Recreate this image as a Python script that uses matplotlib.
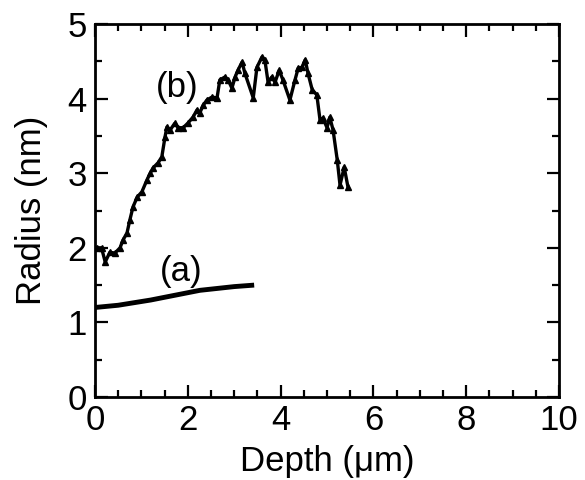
import matplotlib
matplotlib.use("Agg")
import matplotlib.pyplot as plt
from matplotlib.ticker import MultipleLocator

plt.rcParams['font.family'] = ['Liberation Sans', 'DejaVu Sans']

# curve (a)
depth_a = [0.0, 0.5, 1.2, 2.26, 3.0, 3.43]
radius_a = [1.20, 1.23, 1.30, 1.43, 1.48, 1.50]

# curve (b)
depth_b = [0.04, 0.14, 0.22, 0.32, 0.43, 0.54, 0.60, 0.69, 0.75, 0.82, 0.91, 1.01,
           1.12, 1.19, 1.25, 1.36, 1.44, 1.51, 1.55, 1.62, 1.72, 1.79, 1.90, 2.00,
           2.11, 2.20, 2.26, 2.33, 2.41, 2.52, 2.63, 2.69, 2.80, 2.87, 2.95, 3.02,
           3.08, 3.17, 3.23, 3.41, 3.49, 3.60, 3.66, 3.73, 3.81, 3.88, 3.97, 4.05,
           4.20, 4.31, 4.38, 4.46, 4.53, 4.59, 4.68, 4.78, 4.85, 4.91, 5.00, 5.06,
           5.13, 5.22, 5.28, 5.37, 5.45]
radius_b = [2.00, 2.00, 1.81, 1.94, 1.93, 2.00, 2.10, 2.20, 2.37, 2.55, 2.68, 2.75,
            2.91, 3.00, 3.07, 3.14, 3.22, 3.49, 3.62, 3.58, 3.67, 3.61, 3.61, 3.67,
            3.75, 3.85, 3.81, 3.91, 3.98, 4.02, 4.01, 4.25, 4.29, 4.25, 4.14, 4.29,
            4.38, 4.49, 4.34, 4.01, 4.42, 4.56, 4.52, 4.22, 4.29, 4.22, 4.38, 4.25,
            3.98, 4.25, 4.41, 4.42, 4.52, 4.34, 4.12, 4.05, 3.71, 3.74, 3.61, 3.75,
            3.58, 3.18, 2.84, 3.08, 2.82]

fig = plt.figure(figsize=(5.85, 4.8), dpi=100)
ax = fig.add_axes([0.1624, 0.1729, 0.7932, 0.7771])

ax.plot(depth_a, radius_a, color='black', lw=3.5, solid_capstyle='butt')
ax.plot(depth_b, radius_b, color='black', lw=2.4, marker='^', markersize=4.5)

ax.text(1.77, 4.15, '(b)', fontsize=25, ha='center', va='center')
ax.text(1.85, 1.68, '(a)', fontsize=25, ha='center', va='center')

ax.set_xlim(0, 10)
ax.set_ylim(0, 5)
ax.xaxis.set_major_locator(MultipleLocator(2))
ax.xaxis.set_minor_locator(MultipleLocator(0.5))
ax.yaxis.set_major_locator(MultipleLocator(1))
ax.yaxis.set_minor_locator(MultipleLocator(0.5))
ax.tick_params(which='both', direction='in', top=True, right=True, width=1.6,
               labelsize=25)
ax.tick_params(which='major', length=9)
ax.tick_params(which='minor', length=5)
ax.tick_params(axis='x', pad=5)
ax.tick_params(axis='y', pad=6)
for s in ax.spines.values():
    s.set_linewidth(2.0)

ax.set_xlabel('Depth (\u03bcm)', fontsize=25, labelpad=6)
ax.set_ylabel('Radius (nm)', fontsize=25, labelpad=14)

fig.savefig('out.png', dpi=100)
